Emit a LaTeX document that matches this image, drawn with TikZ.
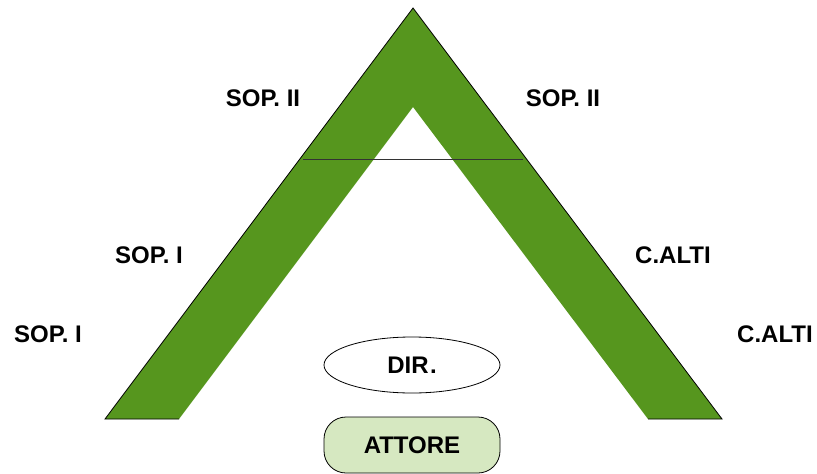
\documentclass[tikz,border=0pt]{standalone}
\usepackage{fontspec}
\setmainfont{Liberation Sans}
\usetikzlibrary{
		shapes.geometric,
		positioning
	}
\definecolor{armgreen}{RGB}{86,150,30}
\definecolor{palegreen}{RGB}{214,232,193}
\tikzset{
		voice/.style={font=\fontsize{24}{24}\selectfont\bfseries, inner sep=0pt},
		stage/.style={draw=black, line width=0.8pt, minimum width=176pt, minimum height=56pt, font=\fontsize{24}{24}\selectfont\bfseries}
	}

\begin{document}
\begin{tikzpicture}[x=1pt,y=-1pt]
		\useasboundingbox (0,0) rectangle (817,474);
		% choir arms
		\fill[draw=none, armgreen] (105,419) -- (413,8) -- (722,419) -- (648,419) -- (413,107) -- (179,419) -- cycle;
		\draw [draw=black, line width=0.8pt] (179,419) -- (105,419) -- (413,8) -- (722,419) -- (648,419);
		\coordinate (cutL) at (303,159);
		\coordinate (cutR) at (523,159);
		\draw [draw=black!80, line width=0.6pt] (cutL) -- (cutR);
		% voices
		\node[voice] (sopIIl) at (263,98) {SOP. II};
		\node[voice] (sopIIr) at (563,98) {SOP. II};
		\node[voice] (sopIa) at (149,255) {SOP. I};
		\node[voice] (sopIb) at (48,334) {SOP. I};
		\node[voice] (caltia) at (673,255) {C.ALTI};
		\node[voice] (caltib) at (775,334) {C.ALTI};
		% centre
		\node[stage, ellipse, inner sep=0pt] (dir) at (412,365) {DIR\kern1.5pt.};
		\node[stage, fill=palegreen, rounded corners=22pt] (attore) at (412,445) {ATTORE};
	\end{tikzpicture}
\end{document}
